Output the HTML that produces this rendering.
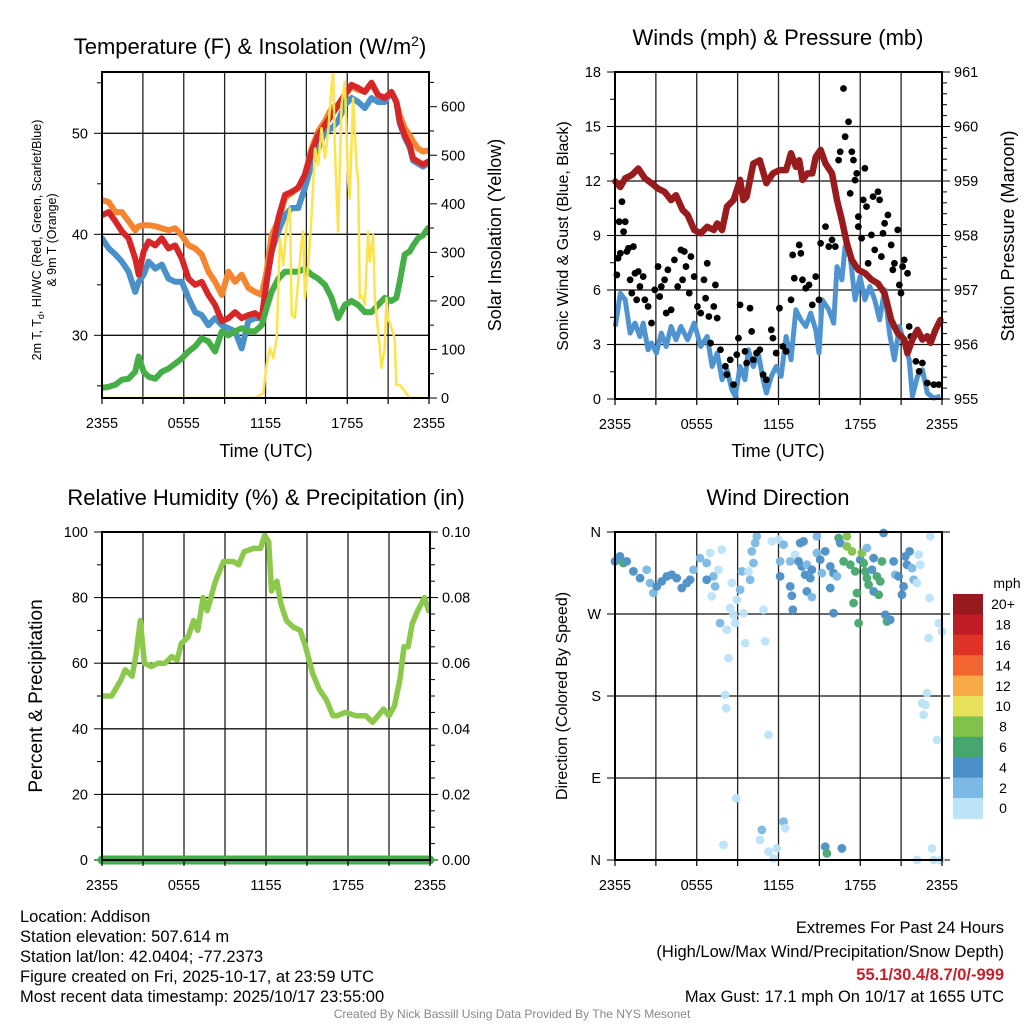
<!DOCTYPE html>
<html><head><meta charset="utf-8">
<style>
html,body{margin:0;padding:0;background:#fff;}
svg{display:block;font-family:"Liberation Sans",sans-serif;}
</style></head>
<body>
<svg id="chart" width="1024" height="1024" viewBox="0 0 1024 1024" xmlns="http://www.w3.org/2000/svg">
<g id="layer"></g>
</svg>
<script>
// ===== Panel 1 data: temperature (F) =====
const tempHours = [0,0.49,0.98,1.46,1.95,2.44,2.69,3.05,3.42,3.91,4.39,4.88,5.37,5.86,6.35,6.84,7.32,7.81,8.30,8.79,9.28,9.77,10.25,10.74,11.23,11.72,12.08,12.45,12.94,13.43,13.92,14.40,14.89,15.38,15.87,16.36,16.85,17.33,17.82,18.31,18.80,19.29,19.78,20.26,20.75,21.24,21.61,21.85,22.22,22.58,22.83,23.19,23.56,23.93];
const temp2m = [41.9,42.2,41.3,40.3,39.6,37.6,36.0,38.3,39.3,38.9,39.6,38.6,38.9,37.6,35.6,35.0,35.3,34.0,33.0,31.4,31.7,32.3,31.7,32.0,32.2,31.7,35.3,38.3,41.6,43.9,44.2,44.6,45.9,48.2,49.8,50.8,51.8,52.8,53.8,54.8,54.5,54.1,55.0,53.8,53.5,54.1,53.1,51.2,49.8,48.8,47.5,47.2,46.9,47.2];
const temp9m = [43.4,43.2,42.2,42.2,41.3,40.4,40.8,40.9,40.9,40.8,40.6,40.4,40.6,39.9,38.9,38.6,38.0,36.3,35.3,34.0,36.3,35.3,36.0,34.7,34.3,34.0,36.3,39.9,41.3,43.6,44.1,44.6,45.9,48.5,50.2,51.2,52.5,52.8,53.8,54.6,54.3,54.1,55.0,53.8,53.5,54.1,53.1,51.8,50.5,49.8,49.2,48.5,48.2,48.3];
const tempHiWc = [39.6,38.6,38.0,37.3,36.3,34.3,35.3,36.0,37.3,36.6,37.0,35.6,35.3,35.3,33.7,32.3,32.0,31.0,31.7,31.0,30.7,30.4,28.7,31.4,31.7,31.7,35.3,38.3,40.3,41.9,42.6,42.6,44.6,46.9,48.5,50.2,50.5,51.2,52.8,53.5,53.1,52.5,53.5,53.1,53.1,54.1,53.1,51.0,49.6,48.6,47.3,47.0,46.7,47.0];
const dewpoint = [24.8,24.9,25.1,25.6,25.7,26.4,27.9,26.4,25.9,25.7,26.4,26.7,27.2,27.7,28.4,28.9,29.7,29.4,28.4,30.4,30.0,30.4,30.7,30.4,30.4,31.0,32.7,34.3,35.6,36.3,36.3,36.3,36.6,36.0,35.6,35.0,33.7,31.7,33.0,33.4,33.0,32.3,32.3,33.0,33.7,33.4,33.7,35.3,38.0,38.3,38.9,39.6,39.9,40.6];
const solarHours = [0,11.23,11.84,12.08,12.33,12.57,12.82,13.06,13.31,13.55,13.79,13.92,14.16,14.40,14.65,14.77,14.89,15.14,15.38,15.63,15.87,16.11,16.36,16.60,16.85,16.97,17.09,17.33,17.58,17.82,18.07,18.19,18.43,18.68,18.80,18.92,19.04,19.29,19.53,19.65,19.90,20.02,20.39,20.51,20.75,20.87,20.99,21.24,21.48,21.61,21.85,22.22,22.58,24];
const solar = [0,0,10,68,103,82,123,329,274,356,391,171,165,240,322,343,206,274,377,514,480,556,494,549,645,672,514,343,604,652,446,411,617,480,446,206,212,192,343,281,336,206,103,62,103,206,165,144,123,27,27,14,0,0];
// ===== Panel 2 data: winds & pressure =====
const windHours = [0.02,0.39,0.75,1.11,1.47,1.83,2.07,2.43,2.68,3.04,3.40,3.76,4.12,4.48,4.84,5.33,5.81,6.29,6.77,7.13,7.50,7.86,8.22,8.58,8.82,9.18,9.54,9.78,10.15,10.51,10.87,11.11,11.47,11.83,12.19,12.56,12.92,13.28,13.64,14.00,14.36,14.73,14.97,15.21,15.69,16.05,16.29,16.65,16.89,17.26,17.62,17.98,18.34,18.70,19.06,19.42,19.79,20.15,20.51,20.87,21.23,21.59,21.83,22.20,22.56,22.92,23.40,23.88];
const windSpeed = [3.99,5.82,5.46,3.63,4.18,3.44,4.18,2.71,3.08,2.53,3.63,2.89,3.99,3.26,3.99,3.26,4.18,2.89,3.44,1.79,2.53,1.06,1.61,0.51,0.15,1.79,1.06,2.71,1.79,2.53,1.06,0.33,1.25,1.79,1.25,3.44,2.16,4.91,4.36,3.99,4.73,3.81,2.53,5.46,4.91,4.18,7.29,6.56,8.39,7.84,5.46,6.74,5.46,6.19,5.46,4.36,6.01,3.63,2.16,3.99,3.08,2.16,0.15,1.25,1.61,0.33,0.05,0.15];
const gustHours = [0.14,0.22,0.31,0.51,0.63,0.75,0.39,0.87,0.99,1.35,1.11,1.47,1.71,1.23,1.59,1.83,2.07,2.19,2.43,2.68,2.92,3.16,3.40,3.28,3.64,3.76,3.88,4.12,4.36,4.60,4.84,5.09,5.21,4.96,5.45,5.57,5.81,6.05,6.29,6.53,6.77,6.65,6.89,7.25,7.37,7.01,7.50,7.74,8.10,8.22,8.46,8.70,8.94,9.18,9.06,9.54,9.66,9.91,10.03,10.15,10.39,10.63,10.87,11.11,11.47,11.59,11.83,12.07,12.32,12.56,12.92,13.04,13.16,13.52,13.64,13.76,14.00,14.24,14.48,14.73,14.97,15.09,15.45,15.69,15.93,16.17,16.41,16.53,16.77,16.89,17.14,17.26,17.38,17.50,17.62,17.74,17.86,17.86,18.10,18.22,18.34,18.46,18.58,18.82,18.94,19.06,19.30,19.42,19.55,19.67,19.79,20.03,20.27,20.39,20.51,20.75,20.87,20.99,21.11,21.23,21.47,21.59,21.71,22.08,22.32,22.56,22.92,23.40,23.76];
const gustSpeed = [6.83,7.75,9.76,10.86,9.21,9.76,8.02,8.12,8.30,8.39,6.56,6.92,7.02,5.83,5.46,6.19,6.74,5.46,5.09,4.18,6.01,7.29,6.19,5.64,6.56,4.73,7.11,4.91,7.66,6.19,8.21,8.12,7.29,6.56,5.83,7.84,6.74,5.09,4.73,6.56,7.47,5.55,4.54,5.09,6.28,3.08,4.45,2.71,1.80,1.34,2.16,0.79,2.44,5.18,3.35,2.62,1.98,5.00,3.72,2.16,2.53,2.71,1.34,1.06,3.81,3.35,2.53,5.00,2.89,2.62,5.46,7.93,6.65,8.48,8.02,6.56,6.10,6.28,5.18,6.74,5.46,8.57,9.49,8.39,8.76,8.39,13.15,13.61,17.09,14.44,15.26,11.32,13.61,13.15,12.05,12.42,10.04,9.49,8.85,10.96,12.70,10.59,7.47,9.03,11.14,8.21,11.41,10.96,7.84,9.12,9.67,10.13,8.48,7.11,7.47,9.31,6.28,5.83,7.29,7.66,6.92,3.99,3.44,2.07,1.52,1.98,0.88,0.79,0.79];
const presHours = [0.02,0.39,0.75,1.23,1.71,2.19,2.68,3.16,3.64,4.12,4.48,4.96,5.33,5.81,6.29,6.77,7.25,7.50,7.86,8.22,8.70,9.18,9.42,9.66,10.15,10.63,11.11,11.59,12.07,12.56,12.92,13.28,13.52,13.76,14.12,14.48,14.73,15.09,15.45,15.93,16.29,16.65,17.01,17.38,17.86,18.34,18.82,19.30,19.79,20.27,20.75,21.23,21.47,21.83,22.20,22.56,22.92,23.16,23.52,23.88];
const pressure = [958.99,958.89,959.05,959.11,959.23,959.05,958.96,958.86,958.80,958.65,958.74,958.47,958.38,958.10,958.04,958.16,958.10,958.22,958.10,958.53,958.65,959.02,958.65,958.71,959.32,959.38,958.96,959.14,959.20,959.20,959.51,959.26,959.38,959.02,959.14,959.14,959.44,959.57,959.32,959.14,958.65,958.28,957.86,957.55,957.37,957.31,957.19,957.12,956.94,956.45,956.21,956.09,955.84,956.09,956.27,956.09,956.15,956.03,956.27,956.45];
// ===== Panel 3 data: relative humidity & precipitation =====
const rhHours = [0.1,0.7,1.4,1.7,2.2,2.5,2.8,3.1,3.6,4.1,4.6,5.1,5.5,5.8,6.3,6.7,7.0,7.4,7.7,8.3,8.9,9.6,10.0,10.4,11.1,11.6,11.9,12.2,12.4,12.8,13.1,13.5,14.0,14.5,14.9,15.4,15.9,16.4,16.9,17.2,17.8,18.6,19.3,19.8,20.2,20.6,21.0,21.4,21.8,22.1,22.4,22.7,23.1,23.6,23.9];
const rhValues = [50,50,55,58,56,63,73,60,59,60,60,62,61,66,68,73,70,80,76,85,91,91,90,94,95,95,99,97,82,85,78,73,71,70,65,57,52,49,44,44,45,44,44,42,44,46,44,47,55,65,65,72,76,80,76];
const precipHours = [0,24];
const precipValues = [0,0];
// ===== Panel 4 data: wind direction =====
const dirHours = [0,0.37,0.61,0.86,1.35,1.84,2.33,2.57,2.82,3.06,3.43,3.80,4.16,4.53,4.90,5.27,5.51,5.76,6.24,6.73,6.98,7.22,7.35,7.59,7.84,6.73,7.10,8.45,8.57,8.94,8.69,7.71,8.20,8.82,9.43,9.31,9.18,9.80,9.92,10.04,10.41,10.29,10.16,10.90,9.55,11.02,8.33,8.08,8.16,11.27,8.89,10.78,10.65,7.96,11.27,11.63,11.88,12.37,12.49,11.51,12.00,12.37,12.12,12.86,13.22,13.59,13.84,13.47,13.71,14.08,14.45,13.96,14.33,14.82,14.82,15.06,15.18,15.43,12.12,12.86,12.98,13.05,14.08,14.45,15.80,16.04,15.80,16.04,16.29,16.41,16.53,17.02,17.02,17.39,16.78,17.27,17.63,17.51,17.76,17.88,18.00,18.12,18.25,18.37,18.49,18.61,18.49,18.86,18.98,18.98,19.22,19.35,19.47,19.59,19.71,19.84,19.96,20.20,20.45,20.57,20.82,21.06,21.18,21.31,21.43,21.62,21.80,21.92,22.16,22.29,22.41,23.09,23.14,23.76,24.0,23.02,22.90,22.53,22.78,22.65,23.63,15.43,15.55,16.65,22.16,23.27,23.39,23.88];
const dirDegrees = [327.8,333.2,325.9,327.8,316.8,309.4,318.6,304.0,293.0,300.3,305.8,311.3,313.1,309.4,298.5,304.0,307.6,318.6,331.4,325.9,336.9,311.3,300.3,318.6,340.6,307.6,289.3,276.5,304.0,285.6,269.2,260.0,252.7,260.0,271.0,316.8,296.6,316.8,307.6,338.7,355.2,347.9,325.9,274.7,238.0,239.9,221.6,181.3,166.6,137.3,67.7,33.0,22.0,16.5,9.2,1.8,12.8,42.1,34.8,349.7,351.6,346.1,327.8,327.8,335.1,347.9,349.7,327.8,322.3,324.1,318.6,313.1,309.4,336.9,355.2,329.6,314.9,338.7,311.3,300.3,290.0,274.7,294.8,288.6,322.3,314.9,298.5,271.0,311.3,353.4,347.9,355.2,344.2,338.7,327.8,324.1,316.8,282.0,293.0,260.0,329.6,336.9,325.9,316.8,309.4,302.1,342.4,318.6,331.4,294.8,311.3,291.1,305.8,327.8,358.9,269.2,261.8,263.7,327.8,313.1,311.3,291.1,300.3,333.2,324.1,338.7,320.4,307.6,304.0,335.1,324.1,287.5,355.2,260.0,250.8,243.5,183.1,172.1,170.3,159.3,131.8,14.6,7.3,12.8,0,12.8,0,0];
const dirSpeed = [5,5,7,5,5,5,3,3,3,5,5,5,5,5,5,5,5,3,3,3,1,3,3,1,1,5,1,1,1,1,1,3,1,1,1,3,3,1,3,3,3,3,3,1,1,1,1,1,1,1,1,3,1,1,1,1,1,3,1,1,1,3,3,3,1,5,5,5,5,3,5,5,5,3,3,5,3,5,5,5,5,5,5,3,5,5,5,5,3,7,5,9,9,9,7,7,7,7,7,7,5,9,7,7,7,7,3,5,5,5,7,7,7,7,5,5,7,5,5,3,5,5,5,5,5,5,3,3,1,1,1,1,1,1,1,1,1,1,1,1,1,5,7,5,1,1,1,1];
const speedBins = [0,2,4,6,8,10,12,14,16,18,20];
const speedBinLabels = ["0","2","4","6","8","10","12","14","16","18","20+"];
const speedColors = ["#bde3f7","#7cb9e4","#4a8fc7","#47a66f","#7fc24c","#e7e15a","#f8a948","#f26430","#e03328","#c01d27","#961a1e"];
const xTickHours = [0,6,12,18,24];
const xTickLabels = ["2355","0555","1155","1755","2355"];

const NS="http://www.w3.org/2000/svg";
const layer=document.getElementById('layer');
function mk(tag,attrs,parent){const e=document.createElementNS(NS,tag);for(const k in attrs)e.setAttribute(k,attrs[k]);(parent||layer).appendChild(e);return e;}
function txt(s,x,y,size,anchor,extra){const e=mk('text',Object.assign({x:x,y:y,'font-size':size,'text-anchor':anchor||'middle',fill:'#000'},extra||{}));e.textContent=s;return e;}
function lin(a,b,c,d){return v=>c+(v-a)*(d-c)/(b-a);}
function path(xs,ys,fx,fy){let d='';for(let i=0;i<xs.length;i++){d+=(i?'L':'M')+fx(xs[i]).toFixed(1)+' '+fy(ys[i]).toFixed(1);}return d;}

function frame(L,R,T,B,hLines,vHours,fx){
  const g=mk('g',{});
  
  
  vHours.forEach(h=>mk('line',{x1:fx(h),x2:fx(h),y1:T,y2:B,stroke:'#222','stroke-width':1.3},g));
  hLines.forEach(y=>mk('line',{x1:L,x2:R,y1:y,y2:y,stroke:'#111','stroke-width':1.3},g));
  return g;
}
function border(L,R,T,B){
  const r=mk('rect',{x:L,y:T,width:R-L,height:B-T,fill:'none',stroke:'#000','stroke-width':2});
  
  
}
function xAxis(L,R,B,fx){
  const g=mk('g',{});
  
  
  for(let h=0;h<=24;h+=3){mk('line',{x1:fx(h),x2:fx(h),y1:B,y2:B+6,stroke:'#000','stroke-width':1.2},g);}
  xTickHours.forEach((h,i)=>{const t=txt(xTickLabels[i],fx(h),B+30,14.5);g.appendChild(t);});
}
const vGrid=[3,6,9,12,15,18,21];

// ================= PANEL 1 =================
{
const L=102,R=429,T=72,B=398;
const fx=lin(0,24,L,R), fy=lin(50,40,133.3,234.3), fs=lin(0,600,398,106.7);
const t=txt('Temperature (F) & Insolation (W/m',250,54,22);
const sup=mk('tspan',{dy:-8,'font-size':14},t);sup.textContent='2';
const cl=mk('tspan',{dy:8},t);cl.textContent=')';

frame(L,R,T,B,[fy(50),fy(40),fy(30)],vGrid,fx);
[55,50,45,40,35,30,25].forEach(v=>{const maj=v%10==0;mk('line',{x1:L-(maj?8:5),x2:L,y1:fy(v),y2:fy(v),stroke:'#000','stroke-width':1});});
[50,40,30].forEach(v=>{const e=txt(String(v),L-14,fy(v)+5,14.5,'end');});
for(let v=0;v<=650;v+=50){const maj=v%100==0;mk('line',{x1:R,x2:R+(maj?8:5),y1:fs(v),y2:fs(v),stroke:'#000','stroke-width':1});}
[0,100,200,300,400,500,600].forEach(v=>{const e=txt(String(v),R+12,fs(v)+5,14.5,'start');});
mk('clipPath',{id:'c1'}).appendChild(document.createElementNS(NS,'rect'));
const cp=document.querySelector('#c1 rect');cp.setAttribute('x',L);cp.setAttribute('y',T);cp.setAttribute('width',R-L);cp.setAttribute('height',B-T);
const series=[[temp9m,'#f68530','series-9m-temperature'],[tempHiWc,'#4a90c9','series-heat-index-wind-chill'],[temp2m,'#d62628','series-2m-temperature'],[dewpoint,'#45ae47','series-dewpoint']];
series.forEach(s=>{const p=mk('path',{d:path(tempHours,s[0],fx,fy),fill:'none',stroke:s[1],'stroke-width':6,'stroke-linejoin':'round','stroke-linecap':'round','clip-path':'url(#c1)'});});
const ps=mk('path',{d:path(solarHours,solar,fx,fs),fill:'none',stroke:'#fde350','stroke-width':2.5,'stroke-linejoin':'round','clip-path':'url(#c1)'});

border(L,R,T,B);xAxis(L,R,B,fx);
const xt=txt('Time (UTC)',266,457,18);
const yl=txt('2m T, T',0,0,12.5,'middle',{transform:'translate(41,240) rotate(-90)'});
const sb=mk('tspan',{dy:3,'font-size':9},yl);sb.textContent='d';
const rest=mk('tspan',{dy:-3},yl);rest.textContent=', HI/WC (Red, Green, Scarlet/Blue)';

const yl2=txt('& 9m T (Orange)',0,0,12.5,'middle',{transform:'translate(56,240) rotate(-90)'});

const yr=txt('Solar Insolation (Yellow)',0,0,18,'middle',{transform:'translate(501,235) rotate(-90)'});

}

// ================= PANEL 2 =================
{
const L=615,R=942,T=72,B=399;
const fx=lin(0,24,L,R), fy=lin(0,18,B,T), fp=lin(955,961,B,T);
const t=txt('Winds (mph) & Pressure (mb)',778,45,22);
frame(L,R,T,B,[3,6,9,12,15].map(fy),vGrid,fx);
for(let v=0;v<=18;v+=1.5){const maj=v%3==0;mk('line',{x1:L-(maj?8:5),x2:L,y1:fy(v),y2:fy(v),stroke:'#000','stroke-width':1});}
[0,3,6,9,12,15,18].forEach(v=>{const e=txt(String(v),L-14,fy(v)+5,14.5,'end');});
for(let v=955;v<=961.001;v+=0.2){const maj=Math.abs(v-Math.round(v))<0.01;mk('line',{x1:R,x2:R+(maj?8:5),y1:fp(v),y2:fp(v),stroke:'#000','stroke-width':1});}
[955,956,957,958,959,960,961].forEach(v=>{const e=txt(String(v),R+12,fp(v)+5,14.5,'start');});
const w=mk('path',{d:path(windHours,windSpeed,fx,fy),fill:'none',stroke:'#4f94d0','stroke-width':5,'stroke-linejoin':'round'});

const gg=mk('g',{});
gustHours.forEach((h,i)=>{const c=mk('circle',{cx:fx(h),cy:fy(gustSpeed[i]),r:3.4,fill:'#000'},gg);});
const p=mk('path',{d:path(presHours,pressure,fx,fp),fill:'none',stroke:'#981b1e','stroke-width':6.5,'stroke-linejoin':'round','stroke-linecap':'round'});

border(L,R,T,B);xAxis(L,R,B,fx);
const xt=txt('Time (UTC)',778,457,18);
const yl=txt('Sonic Wind & Gust (Blue, Black)',0,0,16,'middle',{transform:'translate(568,236) rotate(-90)'});
const yr=txt('Station Pressure (Maroon)',0,0,18,'middle',{transform:'translate(1014,236) rotate(-90)'});
}

// ================= PANEL 3 =================
{
const L=102,R=430,T=532,B=860;
const fx=lin(0,24,L,R), fy=lin(0,100,B,T), fr=lin(0,0.1,B,T);
const t=txt('Relative Humidity (%) & Precipitation (in)',266,505,22);
frame(L,R,T,B,[20,40,60,80].map(fy),vGrid,fx);
for(let v=0;v<=100;v+=10){const maj=v%20==0;mk('line',{x1:L-(maj?8:5),x2:L,y1:fy(v),y2:fy(v),stroke:'#000','stroke-width':1});}
[0,20,40,60,80,100].forEach(v=>{const e=txt(String(v),L-14,fy(v)+5,14.5,'end');});
for(let i=0;i<=20;i++){const v=i*0.005;const maj=i%4==0;mk('line',{x1:R,x2:R+(maj?8:5),y1:fr(v),y2:fr(v),stroke:'#000','stroke-width':1});}
[0,0.02,0.04,0.06,0.08,0.1].forEach(v=>{const e=txt(v.toFixed(2),R+12,fr(v)+5,14.5,'start');});
const rh=mk('path',{d:path(rhHours,rhValues,fx,fy),fill:'none',stroke:'#8cc84b','stroke-width':5.5,'stroke-linejoin':'round','stroke-linecap':'round'});

const pr=mk('path',{d:path(precipHours,precipValues,fx,fr),fill:'none',stroke:'#3fae49','stroke-width':9,'stroke-linecap':'round'});

border(L,R,T,B);xAxis(L,R,B,fx);
const yl=txt('Percent & Precipitation',0,0,19,'middle',{transform:'translate(42,696) rotate(-90)'});
}

// ================= PANEL 4 =================
{
const L=615,R=942,T=532,B=860;
const fx=lin(0,24,L,R), fy=lin(0,360,B,T);
const t=txt('Wind Direction',778,505,22);
frame(L,R,T,B,[90,180,270].map(fy),vGrid,fx);
const dl=['N','E','S','W','N'];
[0,90,180,270,360].forEach((v,i)=>{mk('line',{x1:L-8,x2:L,y1:fy(v),y2:fy(v),stroke:'#000','stroke-width':1});mk('line',{x1:R,x2:R+8,y1:fy(v),y2:fy(v),stroke:'#000','stroke-width':1});const e=txt(dl[i],L-14,fy(v)+5,14.5,'end');});
const gg=mk('g',{opacity:0.95});
function colorFor(s){let k=0;for(let i=0;i<speedBins.length;i++){if(s>=speedBins[i])k=i;}return speedColors[k];}
dirHours.forEach((h,i)=>{const c=mk('circle',{cx:fx(h),cy:fy(dirDegrees[i]),r:4.4,fill:colorFor(dirSpeed[i])},gg);});
border(L,R,T,B);xAxis(L,R,B,fx);
const yl=txt('Direction (Colored By Speed)',0,0,16,'middle',{transform:'translate(567,696) rotate(-90)'});
const cb=mk('g',{});
const top=594,bh=20.4;
for(let i=0;i<speedColors.length;i++){const k=speedColors.length-1-i;mk('rect',{x:953,y:top+i*bh,width:30,height:bh+0.5,fill:speedColors[k]},cb);const e=txt(speedBinLabels[k],1003,top+i*bh+bh/2+5,14,'middle');cb.appendChild(e);}
const u=txt('mph',1007,588,14,'middle');cb.appendChild(u);
}

// ================= FOOTER =================
{
const left=['Location: Addison','Station elevation: 507.614 m','Station lat/lon: 42.0404; -77.2373','Figure created on Fri, 2025-10-17, at 23:59 UTC','Most recent data timestamp: 2025/10/17 23:55:00'];
left.forEach((s,i)=>{const e=txt(s,20,922+i*20,16.5,'start');});
const r1=txt('Extremes For Past 24 Hours',1004,933,16.5,'end');
const r2=txt('(High/Low/Max Wind/Precipitation/Snow Depth)',1004,957,16.5,'end');
const r3=txt('55.1/30.4/8.7/0/-999',1004,980,16.5,'end',{fill:'#c8202a','font-weight':'bold'});
const r4=txt('Max Gust: 17.1 mph On 10/17 at 1655 UTC',1004,1002,16.5,'end');
const c=txt('Created By Nick Bassill Using Data Provided By The NYS Mesonet',512,1018,12,'middle',{fill:'#888'});
}
</script>
</body></html>
